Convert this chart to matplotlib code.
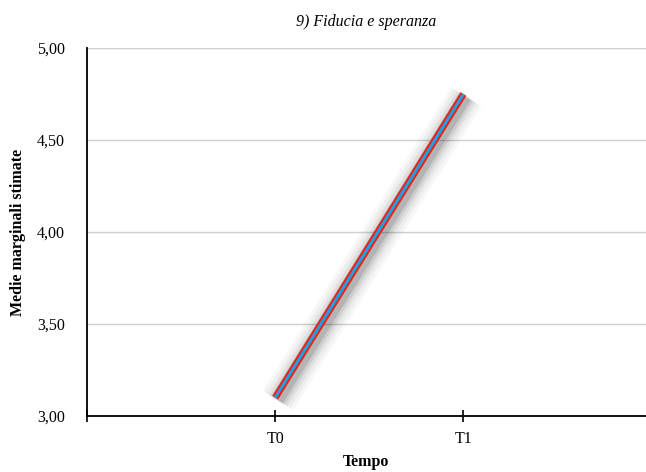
import matplotlib.pyplot as plt
import matplotlib.patheffects as pe

categorie = ['T0', 'T1']
medie = [3.10, 4.75]
yticks = [3.0, 3.5, 4.0, 4.5, 5.0]

plt.rcParams['font.family'] = ['Liberation Serif', 'DejaVu Serif']

fig = plt.figure(figsize=(6.46, 4.72), dpi=100)
ax = fig.add_axes([0.1347, 0.1186, 0.8653, 0.7797])

x = list(range(len(categorie)))

# ombra sfumata sotto la linea
ombra = []
for w, a in [(26, 0.03), (21, 0.04), (16, 0.06), (12, 0.08), (8, 0.12)]:
    ombra.append(pe.SimpleLineShadow(offset=(2, -2), shadow_color='black', alpha=a, linewidth=w))
ax.plot(x, medie, color='#e3261c', linewidth=5, solid_capstyle='butt',
        path_effects=ombra + [pe.Normal()], zorder=3)
ax.plot(x, medie, color='#1aa3e8', linewidth=2, solid_capstyle='butt', zorder=4)

ax.set_xlim(-1, 1.97)
ax.set_ylim(3, 5)
ax.set_xticks([-1] + x)
ax.set_xticklabels([''] + categorie)
ax.set_yticks(yticks)
ax.set_yticklabels([f'{v:.2f}'.replace('.', ',') for v in yticks])
ax.tick_params(axis='y', length=0, labelsize=11.5, pad=16)
ax.tick_params(axis='x', direction='inout', length=8, width=1.2, labelsize=11.5, pad=7)
ax.grid(axis='y', color='#d0d0d0', linewidth=1)
ax.set_axisbelow(True)

for s in ['top', 'right']:
    ax.spines[s].set_visible(False)
ax.spines['left'].set_linewidth(1.3)
ax.spines['bottom'].set_linewidth(1.3)

fig.text(366 / 646, 1 - 22 / 472, '9) Fiducia e speranza', fontsize=11.5, style='italic',
         ha='center', va='center')
fig.text(18 / 646, 1 - 232 / 472, 'Medie marginali stimate', fontsize=11.5, fontweight='bold',
         rotation=90, ha='center', va='center')
fig.text(366 / 646, 1 - 462 / 472, 'Tempo', fontsize=11.5, fontweight='bold',
         ha='center', va='center')

fig.savefig('out.png', dpi=100)
